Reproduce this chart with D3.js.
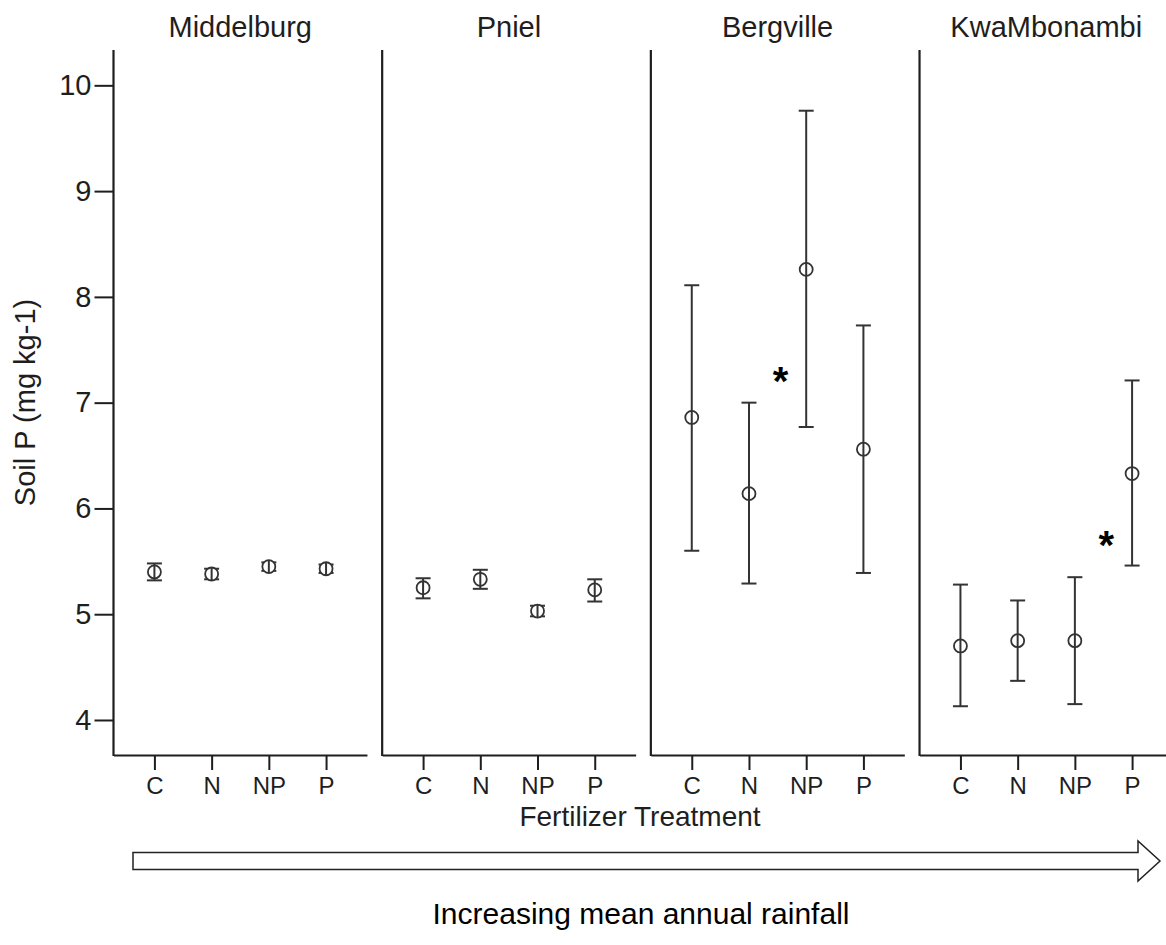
<!DOCTYPE html>
<html>
<head>
<meta charset="utf-8">
<script src="https://cdn.jsdelivr.net/npm/d3@7"></script>
<style>
  html, body { margin: 0; padding: 0; background: #fff; }
  svg { display: block; font-family: "Liberation Sans", Arial, sans-serif; }
</style>
</head>
<body>
<svg id="chart" width="1166" height="945"></svg>
<script>
// Sites, ordered by increasing mean annual rainfall
const sites = ["Middelburg", "Pniel", "Bergville", "KwaMbonambi"];
const treatments = ["C", "N", "NP", "P"];
const yTicks = [4, 5, 6, 7, 8, 9, 10];

// Mean soil P (mg kg-1) per site, in treatment order
const meanMiddelburg  = [5.40, 5.38, 5.45, 5.43];
const meanPniel       = [5.25, 5.33, 5.03, 5.23];
const meanBergville   = [6.86, 6.14, 8.26, 6.56];
const meanKwaMbonambi = [4.70, 4.75, 4.75, 6.33];

// Lower / upper ends of the error bars
const lowMiddelburg  = [5.32, 5.33, 5.41, 5.39];
const highMiddelburg = [5.48, 5.43, 5.49, 5.47];
const lowPniel       = [5.15, 5.24, 4.98, 5.12];
const highPniel      = [5.34, 5.42, 5.08, 5.33];
const lowBergville   = [5.60, 5.29, 6.77, 5.39];
const highBergville  = [8.11, 7.00, 9.76, 7.73];
const lowKwaMbonambi = [4.13, 4.37, 4.15, 5.46];
const highKwaMbonambi= [5.28, 5.13, 5.35, 7.21];

// Significance markers: site, treatment they sit beside, height
const sigSites = ["Bergville", "KwaMbonambi"];
const sigTreatments = ["NP", "P"];
const sigLevels = [7.26, 5.71];

const means = [meanMiddelburg, meanPniel, meanBergville, meanKwaMbonambi];
const lows  = [lowMiddelburg, lowPniel, lowBergville, lowKwaMbonambi];
const highs = [highMiddelburg, highPniel, highBergville, highKwaMbonambi];

const rows = [];
sites.forEach((s, i) => treatments.forEach((t, j) => rows.push({
  site: s, treatment: t, mean: means[i][j], low: lows[i][j], high: highs[i][j]
})));

const svg = d3.select("#chart");
const ink = "#1e1e1e";

const plotTop = 50, plotBottom = 755;
const y = d3.scaleLinear().domain([3.669, 10.334]).range([plotBottom, plotTop]);

const panel = d3.scaleBand().domain(sites).range([113.5, 1173])
  .paddingInner(0.0566).paddingOuter(0).align(0);
const bw = panel.bandwidth();
const x = d3.scalePoint().domain(treatments).range([0, bw]).padding(0.715);

// Panels
const g = svg.selectAll("g.panel").data(sites).join("g")
  .attr("class", "panel")
  .attr("transform", d => `translate(${panel(d)},0)`);

// Site titles
g.append("text")
  .attr("x", bw / 2).attr("y", 37)
  .attr("text-anchor", "middle")
  .attr("font-size", 29).attr("fill", ink)
  .text(d => d);

// Left spine of each panel
g.append("line")
  .attr("x1", 0).attr("x2", 0).attr("y1", plotTop).attr("y2", plotBottom + 1)
  .attr("stroke", ink).attr("stroke-width", 2.2);

// Category axis of each panel
g.each(function () {
  const ax = d3.select(this).append("g")
    .attr("transform", `translate(0,${plotBottom})`)
    .call(d3.axisBottom(x).tickSize(15).tickSizeOuter(0).tickPadding(7));
  ax.select(".domain").attr("stroke", ink).attr("stroke-width", 2.2);
  ax.selectAll(".tick line").attr("stroke", ink).attr("stroke-width", 2);
  ax.selectAll(".tick text").attr("font-size", 24).attr("fill", ink)
    .attr("font-family", "Liberation Sans, Arial, sans-serif");
});

// Value axis on the first panel
const yAxis = svg.append("g")
  .attr("transform", `translate(${panel(sites[0])},0)`)
  .call(d3.axisLeft(y).tickValues(yTicks).tickFormat(d3.format("d"))
    .tickSize(19).tickSizeOuter(0).tickPadding(3));
yAxis.select(".domain").remove();
yAxis.selectAll(".tick line").attr("stroke", ink).attr("stroke-width", 2);
yAxis.selectAll(".tick text").attr("font-size", 29).attr("fill", ink)
  .attr("font-family", "Liberation Sans, Arial, sans-serif");

// Error bars and means
const cap = 7.5;
const marks = svg.append("g").selectAll("g").data(rows).join("g")
  .attr("transform", d => `translate(${panel(d.site) + x(d.treatment)},0)`);
marks.append("line")
  .attr("y1", d => y(d.low)).attr("y2", d => y(d.high))
  .attr("stroke", "#333").attr("stroke-width", 2);
marks.append("line")
  .attr("x1", -cap).attr("x2", cap)
  .attr("y1", d => y(d.high)).attr("y2", d => y(d.high))
  .attr("stroke", "#333").attr("stroke-width", 2);
marks.append("line")
  .attr("x1", -cap).attr("x2", cap)
  .attr("y1", d => y(d.low)).attr("y2", d => y(d.low))
  .attr("stroke", "#333").attr("stroke-width", 2);
marks.append("circle")
  .attr("cy", d => y(d.mean)).attr("r", 6.5)
  .attr("fill", "#fff").attr("stroke", "#333").attr("stroke-width", 1.8);
// bar passes through the open circle
marks.append("line")
  .attr("y1", d => y(d.mean) - 6.5).attr("y2", d => y(d.mean) + 6.5)
  .attr("stroke", "#333").attr("stroke-width", 2);

// Significance asterisks, centred on their level
const step = x.step();
svg.append("g").selectAll("text").data(sigSites).join("text")
  .attr("x", (s, i) => panel(s) + x(sigTreatments[i]) - step * 0.45)
  .attr("y", (s, i) => y(sigLevels[i]))
  .attr("dy", "0.5em")
  .attr("text-anchor", "middle")
  .attr("font-size", 40).attr("font-weight", "bold").attr("fill", "#000")
  .text("*");

// Axis titles
svg.append("text")
  .attr("transform", `translate(35,${(plotTop + plotBottom) / 2}) rotate(-90)`)
  .attr("text-anchor", "middle")
  .attr("font-size", 29).attr("fill", ink)
  .text("Soil P (mg kg-1)");

svg.append("text")
  .attr("x", 640).attr("y", 826)
  .attr("text-anchor", "middle")
  .attr("font-size", 28).attr("fill", ink)
  .text("Fertilizer Treatment");

// Hollow arrow along the rainfall gradient
const ax0 = 133, ax1 = 1160, headX = 1138, midY = 861;
const bodyH = 8.5, headH = 20;
const arrow = d3.path();
arrow.moveTo(ax0, midY - bodyH);
arrow.lineTo(headX, midY - bodyH);
arrow.lineTo(headX, midY - headH);
arrow.lineTo(ax1, midY);
arrow.lineTo(headX, midY + headH);
arrow.lineTo(headX, midY + bodyH);
arrow.lineTo(ax0, midY + bodyH);
arrow.closePath();
svg.append("path").attr("d", arrow.toString())
  .attr("fill", "#fff").attr("stroke", "#222").attr("stroke-width", 1.5);

svg.append("text")
  .attr("x", 641).attr("y", 924)
  .attr("text-anchor", "middle")
  .attr("font-size", 30).attr("fill", "#000")
  .text("Increasing mean annual rainfall");
</script>
</body>
</html>
